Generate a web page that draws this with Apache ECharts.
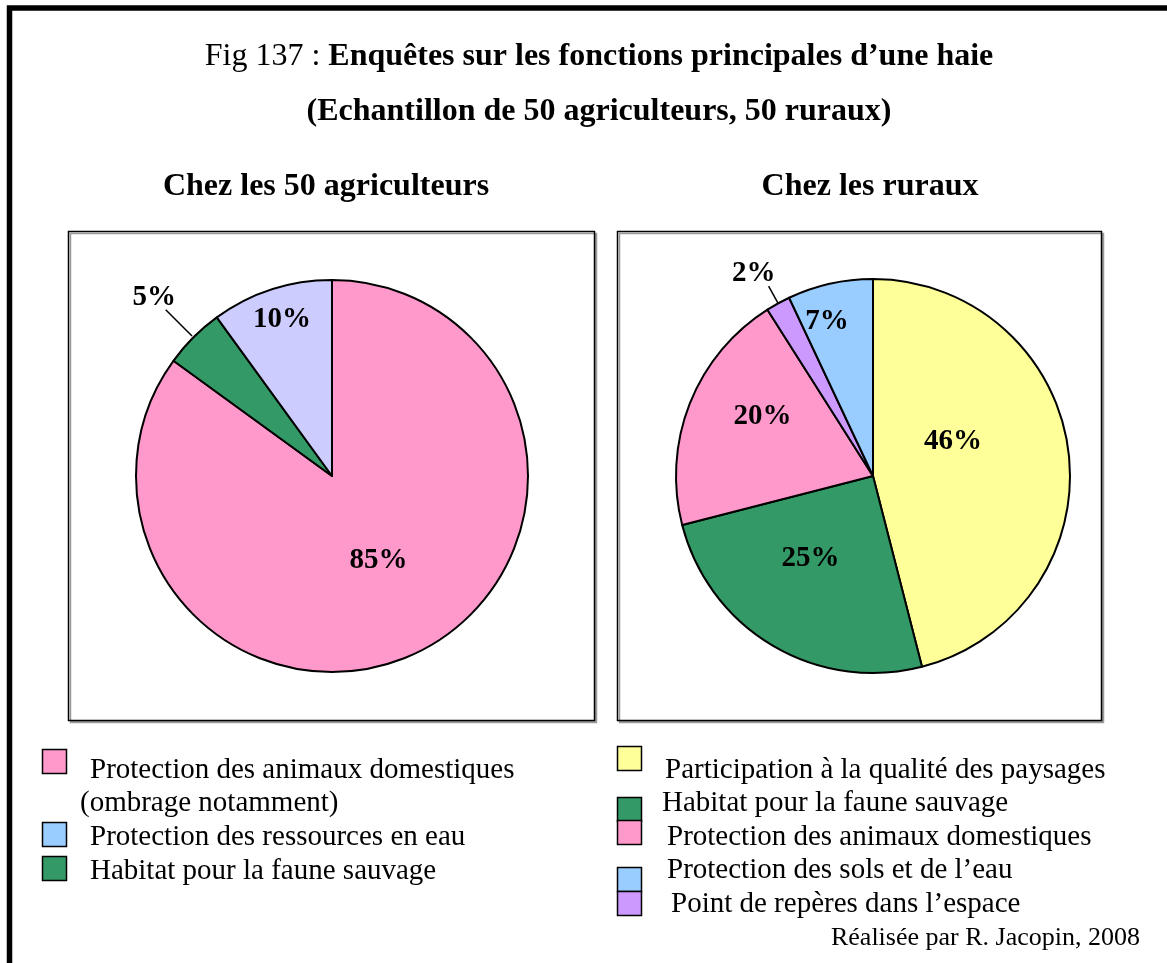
<!DOCTYPE html>
<html>
<head>
<meta charset="utf-8">
<script src="https://cdn.jsdelivr.net/npm/echarts@6/dist/echarts.min.js"></script>
<style>
  html, body { margin: 0; padding: 0; background: #fff; }
  #chart { width: 1167px; height: 963px; }
</style>
</head>
<body>
<div id="chart"></div>
<script>
// Survey results: main functions of a hedge, farmers vs. rural residents
const FARMER_CATEGORIES = [
  'Protection des animaux domestiques\n(ombrage notamment)',
  'Habitat pour la faune sauvage',
  'Protection des ressources en eau'
];
const FARMER_VALUES = [85, 5, 10];

const RURAL_CATEGORIES = [
  'Participation à la qualité des paysages',
  'Habitat pour la faune sauvage',
  'Protection des animaux domestiques',
  'Point de repères dans l’espace',
  'Protection des sols et de l’eau'
];
const RURAL_VALUES = [46, 25, 20, 2, 7];

const TITLE_LINE_1 = ['Fig 137 : ', 'Enquêtes sur les fonctions principales d’une haie'];
const TITLE_LINE_2 = '(Echantillon de 50 agriculteurs, 50 ruraux)';
const SUBTITLES = ['Chez les 50 agriculteurs', 'Chez les ruraux'];
const CREDIT = 'Réalisée par R. Jacopin, 2008';

// ---- styling / layout ----
const SERIF = "'Liberation Serif', 'Times New Roman', serif";
const FARMER_COLORS = ['#FF99CC', '#339966', '#CCCCFF'];
const RURAL_COLORS = ['#FFFF99', '#339966', '#FF99CC', '#CC99FF', '#99CCFF'];

// legend order and swatch colours for each panel
const FARMER_LEGEND = [
  { idx: 0, color: '#FF99CC', box: [42, 749], text: [[90, 770], [80, 803]] },
  { idx: 2, color: '#99CCFF', box: [42, 822], text: [[90, 837]] },
  { idx: 1, color: '#339966', box: [42, 856], text: [[90, 871]] }
];
const RURAL_LEGEND = [
  { idx: 0, color: '#FFFF99', box: [617, 746], text: [[665, 770]] },
  { idx: 1, color: '#339966', box: [617, 797], text: [[662, 803]] },
  { idx: 2, color: '#FF99CC', box: [617, 820], text: [[667, 837]] },
  { idx: 4, color: '#99CCFF', box: [617, 867], text: [[667, 870]] },
  { idx: 3, color: '#CC99FF', box: [617, 891], text: [[671, 904]] }
];

// label spot per slice: [angle shift from slice middle (deg), distance as fraction of radius]
// leader: [inner, outer] fractions of radius along the slice middle, or null
const PIES = [
  {
    names: FARMER_CATEGORIES, values: FARMER_VALUES, colors: FARMER_COLORS,
    center: [332, 476], radius: 196,
    labelSpots: [[-2, 0.49], [0.3, 1.29], [0.4, 0.845]],
    leaders: [null, [1.01, 1.2], null]
  },
  {
    names: RURAL_CATEGORIES, values: RURAL_VALUES, colors: RURAL_COLORS,
    center: [873, 476], radius: 197,
    labelSpots: [[-17, 0.445], [7, 0.52], [7.2, 0.64], [-1.6, 1.195], [-3.8, 0.825]],
    leaders: [null, null, null, [0.93, 1.1], null]
  }
];

function midAngle(values, i) {
  const total = values.reduce((a, b) => a + b, 0);
  let before = 0;
  for (let k = 0; k < i; k++) before += values[k];
  return (before + values[i] / 2) / total * 360;
}
function polar(center, r, angleDeg, f) {
  const a = angleDeg * Math.PI / 180;
  return [center[0] + f * r * Math.sin(a), center[1] - f * r * Math.cos(a)];
}

function pieSeries(pie) {
  return {
    type: 'pie',
    center: pie.center,
    radius: pie.radius,
    startAngle: 90,
    clockwise: true,
    avoidLabelOverlap: false,
    silent: true,
    animation: false,
    emphasis: { disabled: true },
    itemStyle: { borderColor: '#000', borderWidth: 2 },
    label: {
      show: true,
      position: 'inside',
      formatter: '{c}%',
      color: '#000',
      textBorderWidth: 0,
      fontFamily: SERIF,
      fontWeight: 'bold',
      fontSize: 29
    },
    labelLine: { show: false, length: 10, length2: 0, lineStyle: { color: '#000', width: 1.5 } },
    data: pie.values.map((v, i) => ({
      name: pie.names[i],
      value: v,
      itemStyle: { color: pie.colors[i] },
      label: pie.leaders[i] ? { position: 'outside' } : undefined,
      labelLine: { show: !!pie.leaders[i] }
    })),
    labelLayout: function (params) {
      const i = params.dataIndex;
      const mid = midAngle(pie.values, i);
      const spot = pie.labelSpots[i];
      const pos = polar(pie.center, pie.radius, mid + spot[0], spot[1]);
      const out = { x: pos[0], y: pos[1] + 1, align: 'center', verticalAlign: 'middle' };
      const lead = pie.leaders[i];
      if (lead) {
        const a = polar(pie.center, pie.radius, mid, lead[0]);
        const b = polar(pie.center, pie.radius, mid, lead[1]);
        out.labelLinePoints = [a, b, b];
      }
      return out;
    }
  };
}

function legendGraphics(legend, names) {
  const els = [];
  legend.forEach(item => {
    els.push({
      type: 'rect', z: 5,
      shape: { x: item.box[0] + 0.5, y: item.box[1] + 0.5, width: 24, height: 24 },
      style: { fill: item.color, stroke: '#000', lineWidth: 1.5 }
    });
    const lines = names[item.idx].split('\n');
    lines.forEach((line, k) => {
      els.push({
        type: 'text', z: 5,
        style: {
          x: item.text[k][0], y: item.text[k][1], text: line,
          font: '29px ' + SERIF, fill: '#000',
          textAlign: 'left', textVerticalAlign: 'middle'
        }
      });
    });
  });
  return els;
}

const graphics = [
  // frame
  { type: 'rect', z: 0, shape: { x: 9.5, y: 8, width: 1300, height: 1100 },
    style: { fill: 'none', stroke: '#000', lineWidth: 5.5 } },
  // plot boxes
  { type: 'rect', z: 0, shape: { x: 68.5, y: 231.5, width: 526, height: 489 },
    style: { fill: '#fff', stroke: '#000', lineWidth: 1.5, shadowColor: '#9a9a9a', shadowOffsetX: 2, shadowOffsetY: 2, shadowBlur: 0 } },
  { type: 'rect', z: 0, shape: { x: 617.5, y: 231.5, width: 484, height: 489 },
    style: { fill: '#fff', stroke: '#000', lineWidth: 1.5, shadowColor: '#9a9a9a', shadowOffsetX: 2, shadowOffsetY: 2, shadowBlur: 0 } },
  // titles
  { type: 'text', z: 5,
    style: {
      x: 599, y: 57,
      text: '{n|' + TITLE_LINE_1[0] + '}{b|' + TITLE_LINE_1[1] + '}',
      rich: {
        n: { font: '32px ' + SERIF, fill: '#000' },
        b: { font: 'bold 32px ' + SERIF, fill: '#000' }
      },
      textAlign: 'center', textVerticalAlign: 'middle'
    } },
  { type: 'text', z: 5,
    style: { x: 599, y: 112, text: TITLE_LINE_2, font: 'bold 32px ' + SERIF, fill: '#000',
      textAlign: 'center', textVerticalAlign: 'middle' } },
  { type: 'text', z: 5,
    style: { x: 326, y: 187, text: SUBTITLES[0], font: 'bold 32px ' + SERIF, fill: '#000',
      textAlign: 'center', textVerticalAlign: 'middle' } },
  { type: 'text', z: 5,
    style: { x: 870, y: 187, text: SUBTITLES[1], font: 'bold 32px ' + SERIF, fill: '#000',
      textAlign: 'center', textVerticalAlign: 'middle' } },
  // credit
  { type: 'text', z: 5,
    style: { x: 1140, y: 938, text: CREDIT, font: '26px ' + SERIF, fill: '#000',
      textAlign: 'right', textVerticalAlign: 'middle' } }
].concat(legendGraphics(FARMER_LEGEND, FARMER_CATEGORIES), legendGraphics(RURAL_LEGEND, RURAL_CATEGORIES));

const chart = echarts.init(document.getElementById('chart'), null, { renderer: 'canvas' });
chart.setOption({
  backgroundColor: '#fff',
  animation: false,
  graphic: { elements: graphics },
  series: PIES.map(pieSeries)
});
</script>
</body>
</html>
